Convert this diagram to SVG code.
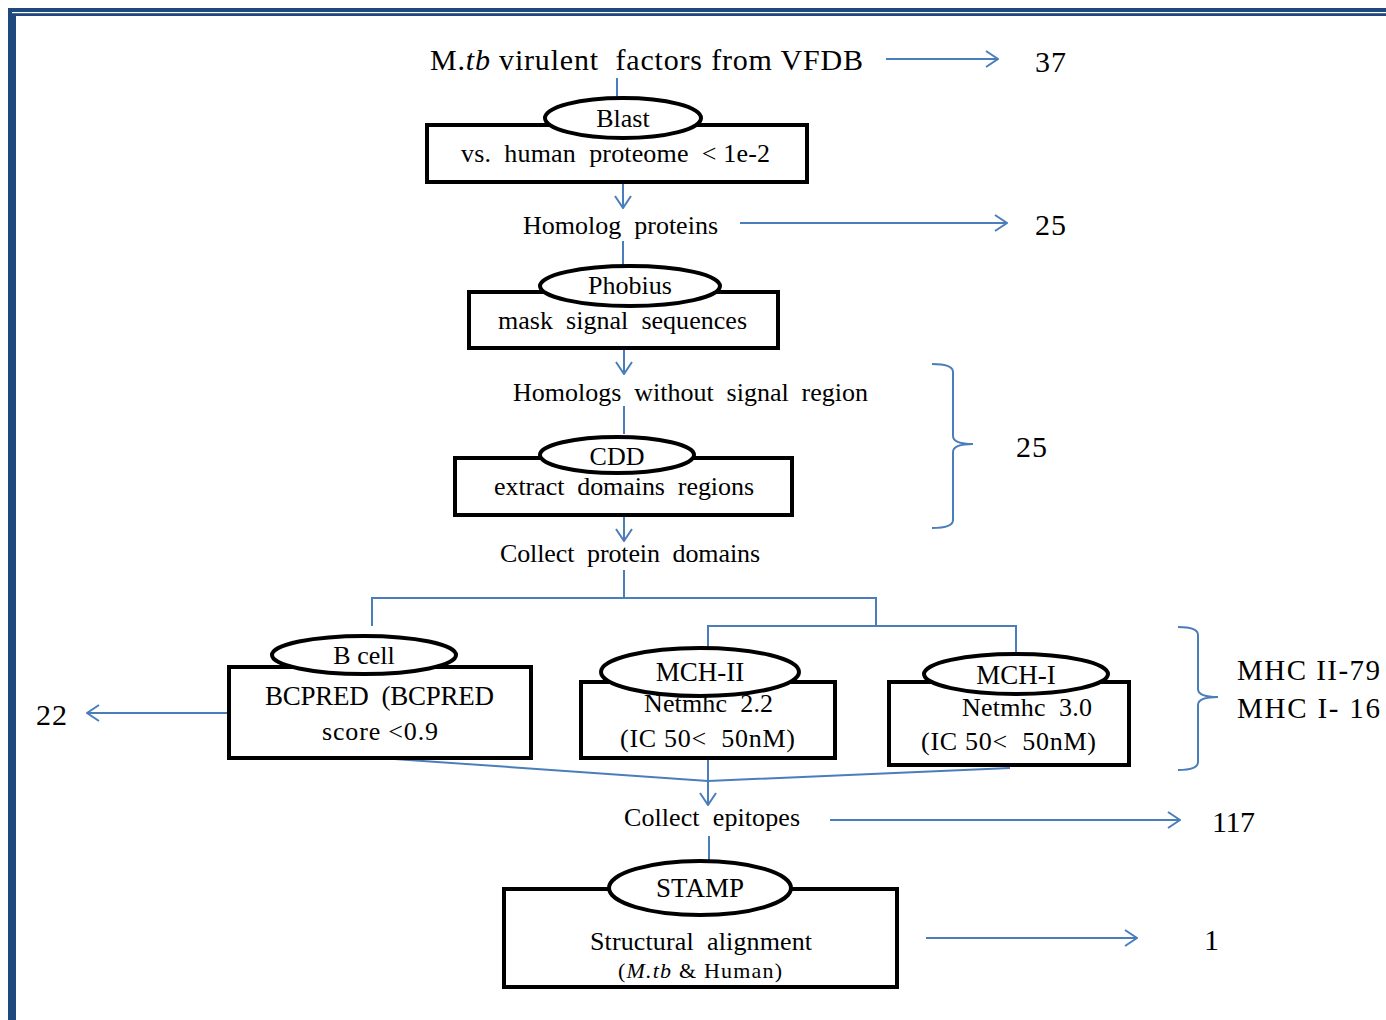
<svg xmlns="http://www.w3.org/2000/svg" width="1386" height="1020" viewBox="0 0 1386 1020">
<style>
.t{font-family:"Liberation Serif","Times New Roman",Times,serif;fill:#000;white-space:pre;}
.box{fill:#fff;stroke:#000;stroke-width:4;}
.ell{fill:#fff;stroke:#000;stroke-width:4;}
.c{fill:none;stroke:#4A7EBB;stroke-width:2;}
</style>
<defs>
<marker id="ah" markerUnits="userSpaceOnUse" markerWidth="14" markerHeight="20" refX="13" refY="10" orient="auto">
<path d="M1,2 L13,10 L1,18" fill="none" stroke="#4A7EBB" stroke-width="2"/>
</marker>
</defs>
<rect width="1386" height="1020" fill="#fff"/>
<g id="frame">
<rect x="8" y="8" width="1378" height="8" fill="#1F497D"/>
<rect x="8" y="8" width="8" height="1012" fill="#1F497D"/>
<rect x="12" y="12" width="1374" height="1.2" fill="#fff"/>
</g>
<g id="connectors">
<path class="c" d="M886,59 L998,59" marker-end="url(#ah)"/>
<path class="c" d="M617,78 L617,96"/>
<path class="c" d="M623,183 L623,208" marker-end="url(#ah)"/>
<path class="c" d="M740,223 L1007,223" marker-end="url(#ah)"/>
<path class="c" d="M623,241 L623,266"/>
<path class="c" d="M624,349 L624,374" marker-end="url(#ah)"/>
<path class="c" d="M624,406 L624,434"/>
<path class="c" d="M624,516 L624,541" marker-end="url(#ah)"/>
<path class="c" d="M624,570 L624,598 M372,626 L372,598 L876,598 L876,626 M708,650 L708,626 L1016,626 L1016,655"/>
<path class="c" d="M229,713 L87,713" marker-end="url(#ah)"/>
<path class="c" d="M380,758 L708,781 L1010,768"/>
<path class="c" d="M708,735 L708,805" marker-end="url(#ah)"/>
<path class="c" d="M830,820 L1180,820" marker-end="url(#ah)"/>
<path class="c" d="M709,836 L709,862"/>
<path class="c" d="M926,938 L1137,938" marker-end="url(#ah)"/>
<path class="c" d="M932,364 Q953,364 953,372 L953,436 Q953,444 973,444 Q953,444 953,452 L953,520 Q953,528 932,528"/>
<path class="c" d="M1178,627 Q1198,627 1198,635 L1198,689 Q1198,697 1218,697 Q1198,697 1198,705 L1198,762 Q1198,770 1178,770"/>
</g>
<g id="title">
<text class="t" x="430" y="70" font-size="30" textLength="433">M.<tspan font-style="italic">tb</tspan> virulent &#160;factors from VFDB</text>
<text class="t" x="1035" y="72" font-size="30" textLength="31">37</text>
</g>
<g id="blast">
<rect class="box" x="427" y="125" width="380" height="57"/>
<ellipse class="ell" cx="623" cy="118" rx="78" ry="20"/>
<text class="t" x="623" y="127" font-size="26" text-anchor="middle">Blast</text>
<text class="t" x="461" y="162" font-size="26" textLength="309">vs. &#160;human &#160;proteome &#160;&lt; 1e-2</text>
</g>
<g id="homolog">
<text class="t" x="523" y="234" font-size="26" textLength="195">Homolog &#160;proteins</text>
<text class="t" x="1035" y="235" font-size="30" textLength="31">25</text>
</g>
<g id="phobius">
<rect class="box" x="469" y="292" width="309" height="56"/>
<ellipse class="ell" cx="630" cy="286" rx="90" ry="20"/>
<text class="t" x="630" y="294" font-size="26" text-anchor="middle">Phobius</text>
<text class="t" x="498" y="329" font-size="26" textLength="249">mask &#160;signal &#160;sequences</text>
</g>
<g id="homologs-nosignal">
<text class="t" x="513" y="401" font-size="26" textLength="355">Homologs &#160;without &#160;signal &#160;region</text>
</g>
<g id="cdd">
<rect class="box" x="455" y="458" width="337" height="57"/>
<ellipse class="ell" cx="617" cy="455" rx="77" ry="18"/>
<text class="t" x="617" y="465" font-size="26" text-anchor="middle">CDD</text>
<text class="t" x="494" y="495" font-size="26" textLength="260">extract &#160;domains &#160;regions</text>
<text class="t" x="1016" y="457" font-size="30" textLength="31">25</text>
</g>
<g id="collect-domains">
<text class="t" x="500" y="562" font-size="26" textLength="260">Collect &#160;protein &#160;domains</text>
</g>
<g id="bcell">
<rect class="box" x="229" y="667" width="302" height="91"/>
<ellipse class="ell" cx="364" cy="655" rx="92" ry="19"/>
<text class="t" x="364" y="664" font-size="26" text-anchor="middle">B cell</text>
<text class="t" x="265" y="705" font-size="27" textLength="229">BCPRED &#160;(BCPRED</text>
<text class="t" x="322" y="740" font-size="26" textLength="116">score &lt;0.9</text>
<text class="t" x="36" y="725" font-size="30" textLength="31">22</text>
</g>
<g id="mch2">
<rect class="box" x="581" y="682" width="254" height="76"/>
<ellipse class="ell" cx="700" cy="672" rx="99" ry="24"/>
<text class="t" x="700" y="681" font-size="27" text-anchor="middle">MCH-II</text>
<text class="t" x="644" y="712" font-size="26" textLength="129">Netmhc &#160;2.2</text>
<text class="t" x="620" y="747" font-size="26" textLength="175">(IC 50&lt; &#160;50nM)</text>
</g>
<g id="mch1">
<rect class="box" x="889" y="682" width="240" height="83"/>
<ellipse class="ell" cx="1016" cy="674" rx="92" ry="20"/>
<text class="t" x="1016" y="684" font-size="27" text-anchor="middle">MCH-I</text>
<text class="t" x="962" y="716" font-size="26" textLength="130">Netmhc &#160;3.0</text>
<text class="t" x="921" y="750" font-size="26" textLength="175">(IC 50&lt; &#160;50nM)</text>
</g>
<g id="mhc-counts">
<text class="t" x="1237" y="680" font-size="29" textLength="143">MHC II-79</text>
<text class="t" x="1237" y="718" font-size="29" textLength="143">MHC I- 16</text>
</g>
<g id="collect-epitopes">
<text class="t" x="624" y="826" font-size="26" textLength="176">Collect &#160;epitopes</text>
<text class="t" x="1212" y="832" font-size="30" textLength="43">117</text>
</g>
<g id="stamp">
<rect class="box" x="504" y="889" width="393" height="98"/>
<ellipse class="ell" cx="700" cy="888" rx="91" ry="27"/>
<text class="t" x="700" y="897" font-size="27" text-anchor="middle">STAMP</text>
<text class="t" x="590" y="950" font-size="26" textLength="222">Structural &#160;alignment</text>
<text class="t" x="618" y="978" font-size="22" textLength="164">(<tspan font-style="italic">M.tb</tspan> &amp; Human)</text>
<text class="t" x="1204" y="950" font-size="30">1</text>
</g>
</svg>
